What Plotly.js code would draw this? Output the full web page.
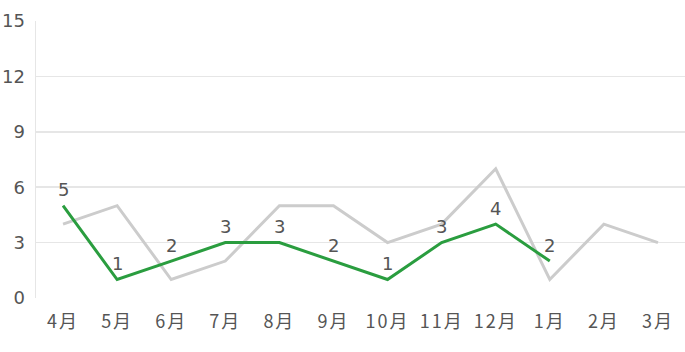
<!DOCTYPE html>
<html><head><meta charset="utf-8">
<script src="https://cdn.plot.ly/plotly-3.0.1.min.js"></script>
<style>html,body{margin:0;padding:0;background:#fff}#c{width:685px;height:352px}
.xtick text{letter-spacing:2px}</style>
</head><body><div id="c"></div>
<script>
const months = ['4月','5月','6月','7月','8月','9月','10月','11月','12月','1月','2月','3月'];
const prevYear = [4,5,1,2,5,5,3,4,7,1,4,3];
const thisYear = [5,1,2,3,3,2,1,3,4,2];
const yTicks = [0,3,6,9,12,15];

const font = "'DejaVu Sans', 'Noto Sans CJK JP', sans-serif";
const cjkFont = "'Noto Sans CJK JP', sans-serif";
const traces = [
  {x: months, y: prevYear, type:'scatter', mode:'lines', line:{color:'#cccccc', width:3}, hoverinfo:'skip'},
  {x: months.slice(0, thisYear.length), y: thisYear, type:'scatter', mode:'lines',
   line:{color:'#2a9d3f', width:3}}
];
const annotations = thisYear.map((v, i) => ({
  x: months[i], y: v, xref:'x', yref:'y', text: String(v), showarrow:false,
  yanchor:'middle', xanchor:'center', yshift:16,
  font:{family:font, size:18, color:'#555555'}
}));
const layout = {
  width:685, height:352,
  margin:{l:36, r:0, t:21, b:54},
  showlegend:false,
  paper_bgcolor:'#fff', plot_bgcolor:'#fff',
  font:{family:font, color:'#555555', size:18},
  annotations: annotations,
  xaxis:{type:'category', range:[-0.5, 11.5], showgrid:false, zeroline:false,
         showline:false, ticks:'', ticklabelstandoff:11, tickfont:{family:cjkFont, size:18, color:'#555'}, fixedrange:true},
  yaxis:{range:[0,15], tickvals:yTicks, ticktext:yTicks.map(String), showgrid:true, gridcolor:'#e6e6e6', gridwidth:1.5,
         zeroline:false, showline:true, linecolor:'#e6e6e6', linewidth:1.5, ticks:'', ticklen:0,
         ticklabelstandoff:6, tickfont:{size:18, color:'#555'}, fixedrange:true}
};
Plotly.newPlot('c', traces, layout, {displayModeBar:false, staticPlot:true});
</script></body></html>
